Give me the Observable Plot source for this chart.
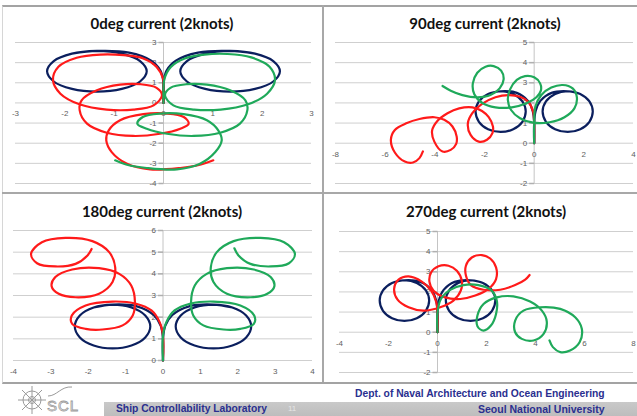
<!DOCTYPE html>
<html><head><meta charset="utf-8">
<script src="https://cdn.jsdelivr.net/npm/d3@7"></script>
<script src="https://cdn.jsdelivr.net/npm/@observablehq/plot@0.6"></script>
<style>
body{margin:0;background:#fff;}
#slide{position:relative;width:637px;height:416px;overflow:hidden;background:#fff;font-family:"Liberation Sans",Arial,sans-serif;}
.box{position:absolute;}
.title{position:absolute;transform:translate(-50%,-50%);font-family:Lato,"Open Sans",sans-serif;font-weight:bold;font-size:15px;white-space:nowrap;color:#111;}
.foot{position:absolute;font-family:"Liberation Sans",Arial,sans-serif;font-weight:bold;color:#2a2f8f;white-space:nowrap;}
</style></head>
<body>
<div id="slide"></div>
<script>
// ---- tick labels ----
const p1XTicks = [-3,-2,-1,0,1,2,3];
const p1YTicks = [3,2,1,0,-1,-2,-3,-4];
const p2XTicks = [-8,-6,-4,-2,0,2,4];
const p2YTicks = [5,4,3,2,1,0,-1,-2];
const p3XTicks = [-4,-3,-2,-1,0,1,2,3,4];
const p3YTicks = [6,5,4,3,2,1,0];
const p4XTicks = [-4,-2,0,2,4,6,8];
const p4YTicks = [5,4,3,2,1,0,-1,-2];

const titles = ["0deg current (2knots)","90deg current (2knots)","180deg current (2knots)","270deg current (2knots)"];

// ---- no-current turning circles (same in every panel) ----
const navyLeft = [[0,0],[0,1.0],[-0.06,1.6],[-0.25,2.1],[-0.7,2.5],[-1.35,2.58],[-1.855,2.445],[-2.225,2.075],[-2.36,1.57],[-2.225,1.065],[-1.855,0.695],[-1.35,0.56],[-0.845,0.695],[-0.475,1.065],[-0.34,1.57],[-0.475,2.075],[-0.845,2.445],[-1.35,2.58],[-1.855,2.445]];
const navyRight = [[0,0],[0,1.0],[0.06,1.6],[0.25,2.1],[0.7,2.5],[1.35,2.58],[1.855,2.445],[2.225,2.075],[2.36,1.57],[2.225,1.065],[1.855,0.695],[1.35,0.56],[0.845,0.695],[0.475,1.065],[0.34,1.57],[0.475,2.075],[0.845,2.445],[1.35,2.58],[1.855,2.445]];

// ---- 0deg ----
const p1Red = [[0,0],[0,0.71],[-0.01,1.21],[-0.14,1.79],[-0.41,2.21],[-0.81,2.37],[-1.28,2.4],[-1.76,2.24],[-2.13,1.79],[-2.24,1.13],[-2.09,0.46],[-1.69,-0.08],[-1.15,-0.33],[-0.61,-0.33],[-0.2,-0.12],[-0.03,0.38],[-0.14,0.75],[-0.47,0.93],[-0.88,0.91],[-1.35,0.63],[-1.66,0.13],[-1.7,-0.36],[-1.55,-1.03],[-1.15,-1.48],[-0.61,-1.64],[-0.07,-1.53],[0.34,-1.28],[0.51,-1.03],[0.41,-0.7],[0.07,-0.53],[-0.41,-0.56],[-0.88,-0.86],[-1.11,-1.36],[-1.16,-1.86],[-1.05,-2.44],[-0.74,-3.02],[-0.27,-3.3],[0.34,-3.23],[0.74,-3.07],[1.01,-2.85]];
const p1Green = [[0,0],[0,0.71],[0.02,1.21],[0.15,1.79],[0.43,2.21],[0.83,2.4],[1.3,2.43],[1.78,2.26],[2.15,1.8],[2.26,1.13],[2.1,0.46],[1.7,-0.08],[1.16,-0.33],[0.62,-0.33],[0.2,-0.12],[0.03,0.38],[0.14,0.75],[0.47,0.93],[0.88,0.91],[1.35,0.63],[1.66,0.13],[1.7,-0.36],[1.55,-1.03],[1.15,-1.48],[0.61,-1.64],[0.07,-1.53],[-0.34,-1.28],[-0.53,-1.03],[-0.42,-0.7],[-0.07,-0.53],[0.41,-0.56],[0.88,-0.86],[1.11,-1.36],[1.18,-1.86],[1.05,-2.44],[0.74,-3.02],[0.27,-3.3],[-0.34,-3.23],[-0.74,-3.07],[-0.98,-2.85]];

// ---- 90deg ----
const p2Red = [[0,0],[0,0.99],[-0.04,1.57],[-0.24,2.06],[-0.57,2.31],[-1.03,2.39],[-1.56,2.28],[-2.1,1.95],[-2.49,1.49],[-2.67,0.99],[-2.56,0.41],[-2.23,0.08],[-1.9,0.17],[-1.68,0.5],[-1.66,0.83],[-1.83,1.29],[-2.1,1.6],[-2.49,1.78],[-3.02,1.73],[-3.49,1.49],[-3.89,1.12],[-4.11,0.63],[-4.02,0.08],[-3.69,-0.41],[-3.36,-0.33],[-3.14,-0.03],[-3.12,0.33],[-3.29,0.83],[-3.62,1.16],[-4.02,1.29],[-4.62,1.2],[-5.15,0.99],[-5.61,0.66],[-5.77,0.17],[-5.61,-0.46],[-5.21,-0.91],[-4.88,-0.96],[-4.62,-0.74],[-4.48,-0.41]];
const p2Green = [[0,0],[0,0.99],[0.05,1.82],[0.29,2.39],[0.69,2.76],[1.15,2.89],[1.55,2.72],[1.72,2.28],[1.62,1.73],[1.22,1.29],[0.62,1.04],[-0.04,1.02],[-0.57,1.24],[-0.93,1.65],[-1.06,2.15],[-0.97,2.67],[-0.7,3.14],[-0.37,3.33],[0,3.27],[0.24,2.97],[0.27,2.61],[0.09,2.28],[-0.31,1.98],[-0.9,1.78],[-1.56,1.78],[-2.1,2.01],[-2.41,2.43],[-2.47,2.97],[-2.29,3.5],[-1.96,3.8],[-1.63,3.83],[-1.33,3.6],[-1.23,3.17],[-1.39,2.72],[-1.76,2.39],[-2.29,2.28],[-2.89,2.39],[-3.36,2.61],[-3.69,2.84]];

// ---- 180deg ----
const p3Red = [[0,0],[0,1.15],[-0.09,1.77],[-0.31,2.31],[-0.72,2.62],[-1.35,2.72],[-2.07,2.54],[-2.44,2.08],[-2.43,1.69],[-2.07,1.46],[-1.62,1.43],[-1.08,1.62],[-0.81,2.08],[-0.75,2.69],[-0.85,3.46],[-1.17,4.0],[-1.71,4.26],[-2.43,4.2],[-2.88,3.85],[-2.98,3.43],[-2.79,3.08],[-2.34,2.92],[-1.71,3.08],[-1.35,3.62],[-1.28,4.31],[-1.44,5.0],[-1.89,5.51],[-2.61,5.66],[-3.24,5.46],[-3.53,4.92],[-3.37,4.49],[-2.88,4.34],[-2.34,4.46],[-2.02,4.85],[-1.91,5.15]];
const p3Green = [[0,0],[0,1.15],[0.09,1.77],[0.31,2.31],[0.72,2.62],[1.35,2.72],[2.07,2.54],[2.44,2.08],[2.43,1.69],[2.07,1.46],[1.62,1.43],[1.08,1.62],[0.81,2.08],[0.75,2.69],[0.85,3.46],[1.17,4.0],[1.71,4.26],[2.43,4.2],[2.88,3.85],[2.98,3.43],[2.79,3.08],[2.34,2.92],[1.71,3.08],[1.35,3.62],[1.28,4.31],[1.44,5.0],[1.89,5.51],[2.61,5.66],[3.24,5.46],[3.53,4.92],[3.37,4.49],[2.88,4.34],[2.34,4.46],[2.02,4.85],[1.91,5.18]];

// ---- 270deg ----
const p4Red = [[0,0],[0,0.83],[-0.05,1.49],[-0.26,2.06],[-0.64,2.51],[-1.18,2.77],[-1.59,2.61],[-1.77,2.15],[-1.63,1.62],[-1.18,1.24],[-0.57,1.07],[0.11,1.24],[0.65,1.57],[0.95,2.06],[0.99,2.56],[0.79,3.05],[0.45,3.3],[0.04,3.27],[-0.26,2.97],[-0.33,2.51],[-0.16,2.06],[0.31,1.73],[0.93,1.65],[1.54,1.82],[2.08,2.15],[2.39,2.64],[2.39,3.22],[2.15,3.66],[1.81,3.83],[1.4,3.71],[1.16,3.3],[1.16,2.81],[1.36,2.34],[1.88,2.11],[2.56,2.11],[3.17,2.34],[3.58,2.61],[3.76,2.84]];
const p4Green = [[0,0],[0,0.99],[0.14,1.65],[0.52,2.1],[1.06,2.34],[1.67,2.34],[2.18,2.1],[2.42,1.57],[2.39,0.91],[2.18,0.33],[1.88,0.08],[1.63,0.3],[1.63,0.83],[1.88,1.4],[2.42,1.73],[3.1,1.78],[3.78,1.52],[4.26,1.07],[4.46,0.53],[4.33,-0.08],[3.92,-0.41],[3.44,-0.33],[3.17,0],[3.17,0.58],[3.51,1.07],[4.19,1.24],[5.01,1.16],[5.62,0.74],[5.89,0.17],[5.8,-0.5],[5.41,-0.91],[5.01,-0.99],[4.71,-0.74],[4.57,-0.41]];

const NAVY = "#0b1f5e", RED = "#ff1a1a", GREEN = "#1fa95a";

const tickLeft = {draw(ctx){ ctx.moveTo(-5,0); ctx.lineTo(0,0); }};

function makePanel(o){
  const lines = [
    [navyLeft, NAVY],[navyRight, NAVY],[o.red, RED],[o.green, GREEN]
  ].map(([data,color]) => Plot.line(data, {x: d=>d[0], y: d=>d[1], stroke: color, strokeWidth: 2.2, curve: "catmull-rom"}));
  return Plot.plot({
    width: o.width, height: o.height,
    marginLeft: o.ml, marginRight: o.mr, marginTop: o.mt, marginBottom: o.mb,
    x: {domain: o.xDomain, axis: null},
    y: {domain: o.yDomain, axis: null},
    style: {background: "transparent", overflow: "visible"},
    marks: [
      Plot.ruleY(o.yTicks, {stroke: "#cfcfcf", strokeWidth: 1}),
      Plot.ruleX([0], {stroke: "#c4c4c4", strokeWidth: 1}),
      Plot.dot(o.yTicks, {x: 0, y: d=>d, symbol: tickLeft, stroke: "#b0b0b0", fill: "none"}),
      Plot.text(o.yTicks, {x: 0, y: d=>d, text: d=>String(d), dx: -7, textAnchor: "end", fontSize: 8, fill: "#606060", fontFamily: "Liberation Sans, Arial, sans-serif"}),
      Plot.text(o.xTicks, {x: d=>d, y: 0, text: d=>String(d), dy: 11, fontSize: 8, fill: "#606060", fontFamily: "Liberation Sans, Arial, sans-serif"}),
      ...lines
    ]
  });
}

const slide = document.getElementById("slide");
function addBox(left, top, w, h, node){
  const d = document.createElement("div");
  d.className = "box";
  d.style.left = left+"px"; d.style.top = top+"px"; d.style.width = w+"px"; d.style.height = h+"px";
  if (node) d.appendChild(node);
  slide.appendChild(d);
  return d;
}

// frame lines
const frame = addBox(2,5,640,375);
frame.style.borderTop = "2px solid #a3a3a3";
frame.style.borderLeft = "1px solid #d6d6d6";
frame.style.borderBottom = "2px solid #a3a3a3";
const vdiv = addBox(322,5,2,377); vdiv.style.background = "#a8a8a8";
const hdiv = addBox(2,192,640,2); hdiv.style.background = "#a8a8a8";

addBox(0,0,322,190, makePanel({width:322,height:190,ml:15,mr:11,mt:42,mb:7,xDomain:[-3,3],yDomain:[-4,3],xTicks:p1XTicks,yTicks:p1YTicks,red:p1Red,green:p1Green}));
addBox(324,0,313,190, makePanel({width:313,height:190,ml:11,mr:4,mt:42,mb:7,xDomain:[-8,4],yDomain:[-2,5],xTicks:p2XTicks,yTicks:p2YTicks,red:p2Red,green:p2Green}));
addBox(0,193,322,189, makePanel({width:322,height:189,ml:13,mr:10,mt:37,mb:22,xDomain:[-4,4],yDomain:[0,6],xTicks:p3XTicks,yTicks:p3YTicks,red:p3Red,green:p3Green}));
addBox(324,193,313,189, makePanel({width:313,height:189,ml:15,mr:4,mt:38,mb:10,xDomain:[-4,8],yDomain:[-2,5],xTicks:p4XTicks,yTicks:p4YTicks,red:p4Red,green:p4Green}));

// titles
[[162,23],[485,23],[162,211],[486,211]].forEach(([cx,cy],i)=>{
  const t = document.createElement("div");
  t.className = "title"; t.textContent = titles[i];
  t.style.left = cx+"px"; t.style.top = cy+"px";
  slide.appendChild(t);
});

// footer
const bar = addBox(104,402,533,14); bar.style.background = "linear-gradient(#c9c9c9,#bdbdbd)";
function footText(txt, left, top, size, color){
  const f = document.createElement("div");
  f.className = "foot"; f.textContent = txt;
  f.style.left = left+"px"; f.style.top = top+"px"; f.style.fontSize = size+"px";
  if (color) f.style.color = color;
  slide.appendChild(f);
  return f;
}
footText("Dept. of Naval Architecture and Ocean Engineering", 355, 388, 10.3);
footText("Ship Controllability Laboratory", 116, 403, 10.3);
footText("Seoul National University", 478, 403, 10.5);
const pg = footText("11", 288, 404, 8, "#e6e6e6"); pg.style.fontWeight = "normal";

// logo
const logo = document.createElement("div");
logo.className = "box"; logo.style.left = "16px"; logo.style.top = "382px";
logo.innerHTML = '<svg width="74" height="34" viewBox="0 0 74 34"><g fill="none" stroke="#9a9a9a" stroke-width="1"><circle cx="16" cy="18" r="9"/><circle cx="16" cy="18" r="3.5"/><path d="M16 4v28M2 18h28M6 8l20 20M26 8l-20 20"/><path d="M32 14c9 0 13-10 24-9" /></g><text x="31" y="29" font-family="Liberation Sans, Arial" font-size="15" fill="none" stroke="#9a9a9a" stroke-width="0.8" letter-spacing="1">SCL</text></svg>';
slide.appendChild(logo);
</script>
</body></html>
